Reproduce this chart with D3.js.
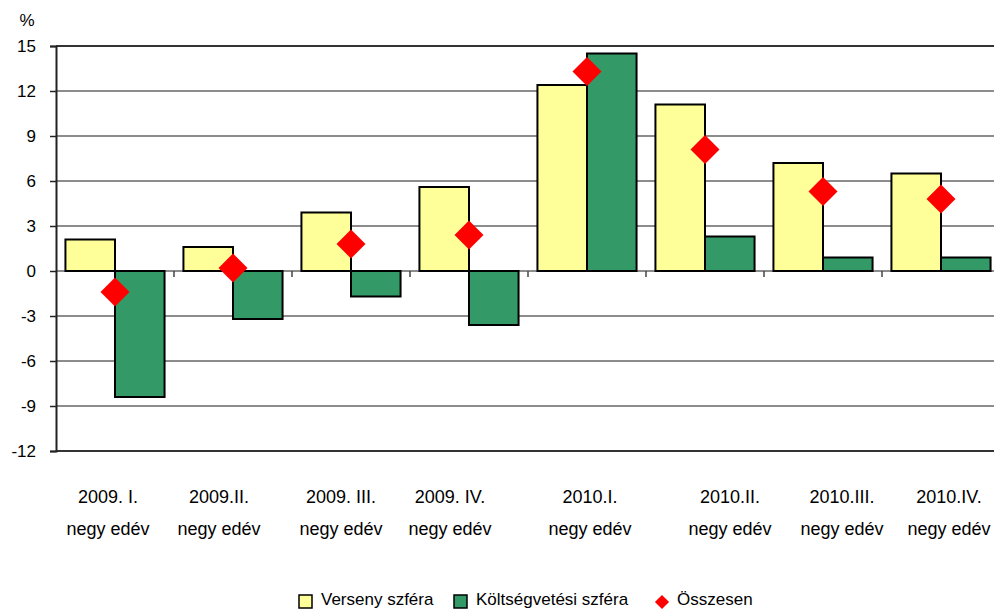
<!DOCTYPE html>
<html>
<head>
<meta charset="utf-8">
<title>Versenyszféra / Költségvetési szféra</title>
<style>
body {
  margin: 0;
  background: #fff;
}
text {
  font-family: "Liberation Sans", Arial, sans-serif;
  fill: #000;
}
</style>
</head>
<body>
<svg id="chart"></svg>
<script src="https://cdnjs.cloudflare.com/ajax/libs/d3/7.8.5/d3.min.js"></script>
<script>
// data
var quarters = ['2009. I.', '2009.II.', '2009. III.', '2009. IV.', '2010.I.', '2010.II.', '2010.III.', '2010.IV.'];
var quarterSub = 'negy edév';
var verseny = [2.1, 1.6, 3.9, 5.6, 12.4, 11.1, 7.2, 6.5];
var koltsegvetes = [-8.4, -3.2, -1.7, -3.6, 14.5, 2.3, 0.9, 0.9];
var osszesen = [-1.4, 0.2, 1.8, 2.4, 13.3, 8.1, 5.3, 4.8];
var yTicks = [-12, -9, -6, -3, 0, 3, 6, 9, 12, 15];
var seriesNames = ['Verseny szféra', 'Költségvetési szféra', 'Összesen'];

// layout (note: "top" is taken by window.top, so use plot* names)
var width = 994, height = 610;
var plotLeft = 56, plotRight = 1000, plotTop = 46, plotBottom = 451;
// the category labels are not quite centred in the original
var labelNudge = [-7, -14, -10, -19, 3, 25, 19, 8];

var colors = {verseny: '#ffff99', kolt: '#339966', ossz: '#ff0000'};

var svg = d3.select('#chart')
  .attr('width', width)
  .attr('height', height);

var x0 = d3.scaleBand()
  .domain(quarters)
  .range([plotLeft, plotRight])
  .paddingInner(0.16)
  .paddingOuter(0.08);

var x1 = d3.scaleBand()
  .domain(['verseny', 'kolt'])
  .range([0, x0.bandwidth()]);

var y = d3.scaleLinear()
  .domain([-12, 15])
  .range([plotBottom, plotTop]);

// gridlines
svg.append('g')
  .selectAll('line')
  .data(yTicks)
  .enter()
  .append('line')
  .attr('x1', plotLeft)
  .attr('x2', width)
  .attr('y1', function(d) { return y(d); })
  .attr('y2', function(d) { return y(d); })
  .attr('stroke', function(d) { return (d === 15 || d === -12) ? '#333' : '#8c8c8c'; })
  .attr('stroke-width', function(d) { return (d === 15 || d === -12) ? 2.2 : 1.8; });

// y axis - plain hyphen for negatives, like the original
var yAxis = svg.append('g')
  .attr('transform', 'translate(' + plotLeft + ',0)')
  .call(d3.axisLeft(y).tickValues(yTicks).tickSize(6).tickPadding(14)
    .tickFormat(function(d) { return String(d); }));
yAxis.select('.domain').attr('stroke', '#222').attr('stroke-width', 2);
yAxis.selectAll('.tick line').attr('stroke', '#222').attr('stroke-width', 1.5);
yAxis.selectAll('.tick text')
  .style('font-family', '"Liberation Sans", Arial, sans-serif')
  .style('font-size', '17px')
  .attr('fill', '#000');

svg.append('text')
  .attr('x', 27)
  .attr('y', 26)
  .attr('text-anchor', 'middle')
  .style('font-size', '17px')
  .text('%');

// category ticks on the zero line
var bounds = quarters.slice(1).map(function(q) { return x0(q) - x0.step() * x0.paddingInner() / 2; });
svg.append('g')
  .selectAll('line')
  .data(bounds)
  .enter()
  .append('line')
  .attr('x1', function(d) { return d; })
  .attr('x2', function(d) { return d; })
  .attr('y1', y(0))
  .attr('y2', y(0) + 6)
  .attr('stroke', '#444')
  .attr('stroke-width', 1.5);

// bars
var rows = quarters.map(function(q, i) {
  return {q: q, verseny: verseny[i], kolt: koltsegvetes[i], ossz: osszesen[i]};
});

var groups = svg.append('g')
  .selectAll('g')
  .data(rows)
  .enter()
  .append('g')
  .attr('transform', function(d) { return 'translate(' + x0(d.q) + ',0)'; });

groups.selectAll('rect')
  .data(function(d) {
    return ['verseny', 'kolt'].map(function(k) { return {key: k, value: d[k]}; });
  })
  .enter()
  .append('rect')
  .attr('x', function(d) { return x1(d.key); })
  .attr('width', x1.bandwidth())
  .attr('y', function(d) { return y(Math.max(0, d.value)); })
  .attr('height', function(d) { return Math.abs(y(d.value) - y(0)); })
  .attr('fill', function(d) { return colors[d.key]; })
  .attr('stroke', '#000')
  .attr('stroke-width', 2);

// diamonds
var diamond = d3.symbol().type(d3.symbolSquare).size(420);
svg.append('g')
  .selectAll('path')
  .data(rows)
  .enter()
  .append('path')
  .attr('d', diamond)
  .attr('transform', function(d) {
    return 'translate(' + (x0(d.q) + x0.bandwidth() / 2) + ',' + y(d.ossz) + ') rotate(45)';
  })
  .attr('fill', colors.ossz);

// category labels
var labels = svg.append('g')
  .selectAll('text')
  .data(quarters)
  .enter()
  .append('text')
  .attr('text-anchor', 'middle')
  .style('font-size', '18px')
  .attr('transform', function(d, i) {
    return 'translate(' + (x0(d) + x0.bandwidth() / 2 + labelNudge[i]) + ',0)';
  });
labels.append('tspan').attr('x', 0).attr('y', 503).text(function(d) { return d; });
labels.append('tspan').attr('x', 0).attr('y', 535).text(quarterSub);

// legend
var legend = svg.append('g').attr('transform', 'translate(299,600)');
var legendItems = [
  {name: seriesNames[0], color: colors.verseny, shape: 'rect', x: 0},
  {name: seriesNames[1], color: colors.kolt, shape: 'rect', x: 155},
  {name: seriesNames[2], color: colors.ossz, shape: 'diamond', x: 363}
];
legendItems.forEach(function(it) {
  var g = legend.append('g').attr('transform', 'translate(' + it.x + ',0)');
  if (it.shape === 'rect') {
    g.append('rect')
      .attr('x', 0).attr('y', -5)
      .attr('width', 13).attr('height', 13)
      .attr('fill', it.color)
      .attr('stroke', '#000')
      .attr('stroke-width', 1.5);
  } else {
    g.append('path')
      .attr('d', d3.symbol().type(d3.symbolSquare).size(100))
      .attr('transform', 'translate(0,2) rotate(45)')
      .attr('fill', it.color);
  }
  g.append('text')
    .attr('x', it.shape === 'rect' ? 22 : 15)
    .attr('y', 5)
    .style('font-size', '17px')
    .text(it.name);
});
</script>
</body>
</html>
